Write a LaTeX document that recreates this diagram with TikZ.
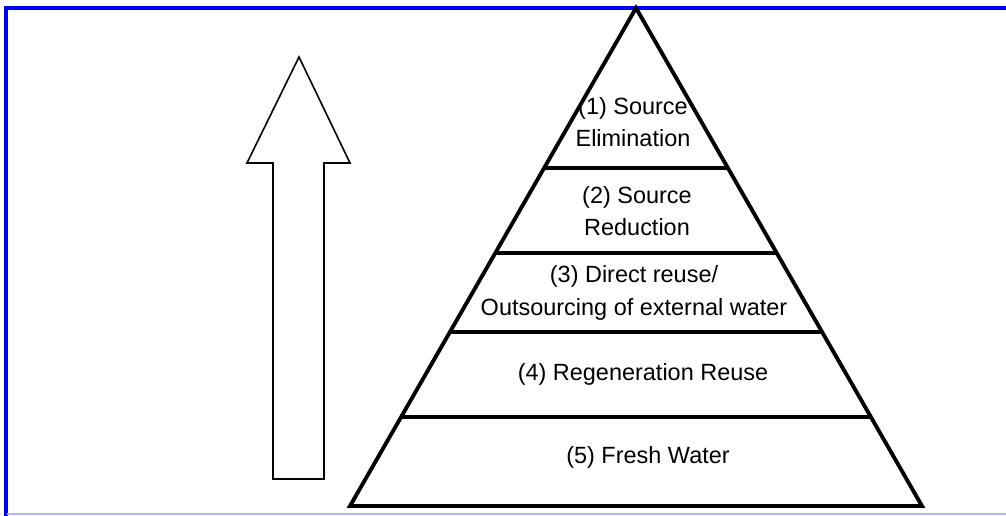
\documentclass[tikz,border=0pt]{standalone}
\usepackage{fontspec}
\setmainfont{Liberation Sans}
\usetikzlibrary{calc}

\begin{document}
\begin{tikzpicture}[x=0.75pt, y=-0.75pt,
  every node/.style={font=\fontsize{17.6}{24.5}\selectfont, align=center, inner sep=0pt},
  layer/.style={line width=2.9pt}]

\useasboundingbox (0,0) rectangle (1006,516);

% frame
\draw[blue, line width=2.4pt] (6,516) -- (6,8) -- (1006,8);
\draw[blue!30, line width=0.8pt] (7,514) -- (1006,514);

% arrow
\coordinate (tip) at (299,57);
\draw[line width=1.2pt, line join=miter] (tip) -- ++(51,106) -- ++(-26,0) -- ++(0,316)
  -- ++(-51,0) -- ++(0,-316) -- ++(-26,0) -- cycle;

% pyramid
\coordinate (top) at (636,8);
\coordinate (bl) at (350,506);
\coordinate (br) at (922,506);
\draw[layer, line join=miter] (top) -- (br) -- (bl) -- cycle;
\foreach \f in {0.3213,0.492,0.6506,0.8213}
  \draw[layer] ($(top)!\f!(bl)$) -- ($(top)!\f!(br)$);

\node (l1) at (633,122) {(1) Source\\Elimination};
\node (l2) at (637,211) {(2) Source\\Reduction};
\node (l3) at (634,293) {(3) Direct reuse/\\Outsourcing of external water};
\node (l4) at (643,374) {(4) Regeneration Reuse};
\node (l5) at (648,457) {(5) Fresh Water};
\end{tikzpicture}
\end{document}
